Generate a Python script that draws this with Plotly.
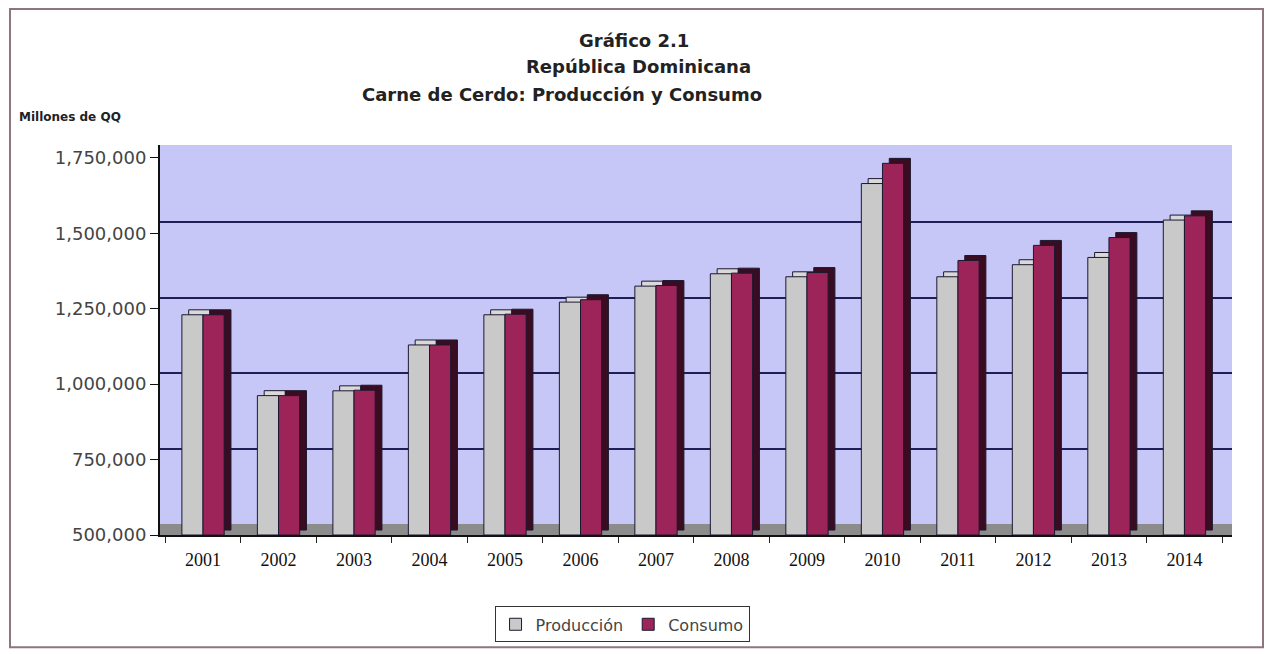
import plotly.graph_objects as go

# ---------------- data ----------------
years = ["2001", "2002", "2003", "2004", "2005", "2006", "2007",
         "2008", "2009", "2010", "2011", "2012", "2013", "2014"]
produccion = [1230000, 962000, 978000, 1130000, 1230000, 1272000, 1325000,
              1366000, 1356000, 1665000, 1356000, 1396000, 1420000, 1544000]
consumo = [1230000, 962000, 980000, 1130000, 1232000, 1280000, 1327000,
           1368000, 1370000, 1732000, 1410000, 1460000, 1486000, 1558000]
y_ticks = [500000, 750000, 1000000, 1250000, 1500000, 1750000]
wall_grid = [750000, 1000000, 1250000, 1500000]

# ---------------- geometry / style ----------------
W, H = 1272, 654
L, R, T, B = 160, 40, 145, 116
plot_h = H - T - B
px_per_unit = 380 / 1250000.0          # 380 px for 1.25M
y_min = 500000
y_max = y_min + plot_h / px_per_unit
floor_val = 11 / px_per_unit            # depth of the floor in value units
bar_depth_val = 5 / px_per_unit         # depth of a bar top in value units
dx = 0.09                               # horizontal depth in category units
bw = 0.28

GRAY = "#c9c9c9"
RED = "#9c2458"
EDGE = "#1c1830"

fig = go.Figure()

base_sh = [y_min + bar_depth_val] * len(years)
# depth (top / side) blocks
fig.add_trace(go.Bar(x=years, y=[v - y_min for v in produccion], base=base_sh,
                     offset=-bw + dx, width=bw, marker=dict(color="#d9d9d9", line=dict(color=EDGE, width=1)),
                     showlegend=False, hoverinfo="skip"))
fig.add_trace(go.Bar(x=years, y=[v - y_min for v in consumo], base=base_sh,
                     offset=dx, width=bw, marker=dict(color="#3a0c22", line=dict(color=EDGE, width=1)),
                     showlegend=False, hoverinfo="skip"))
# front faces
fig.add_trace(go.Bar(x=years, y=[v - y_min for v in produccion], base=[y_min] * len(years),
                     offset=-bw, width=bw, name="Producción",
                     marker=dict(color=GRAY, line=dict(color=EDGE, width=1))))
fig.add_trace(go.Bar(x=years, y=[v - y_min for v in consumo], base=[y_min] * len(years),
                     offset=0, width=bw, name="Consumo",
                     marker=dict(color=RED, line=dict(color=EDGE, width=1))))

# invisible trace to activate the wall axis (gridlines of back wall)
fig.add_trace(go.Scatter(x=years, y=produccion, yaxis="y2", mode="markers",
                         marker=dict(opacity=0), showlegend=False, hoverinfo="skip"))

fig.update_layout(
    width=W, height=H,
    margin=dict(l=L, r=R, t=T, b=B),
    paper_bgcolor="white",
    plot_bgcolor="#c7c7f7",
    barmode="overlay",
    font=dict(family="DejaVu Sans", color="#333333"),
    xaxis=dict(type="category", range=[-0.57, 13.63], showgrid=False,
               showline=True, linecolor="#111111", linewidth=2,
               ticks="outside", ticklen=6, tickcolor="#222222", tickson="boundaries",
               tickfont=dict(family="Liberation Serif", size=18, color="#111111"),
               ticklabelstandoff=7, zeroline=False),
    yaxis=dict(range=[y_min, y_max], tickvals=y_ticks, tickformat=",d",
               showgrid=False, showline=True, linecolor="#111111", linewidth=2,
               ticks="outside", ticklen=8, tickcolor="#111111",
               tickfont=dict(family="DejaVu Sans", size=18, color="#444444"),
               zeroline=False),
    yaxis2=dict(range=[y_min - floor_val, y_max - floor_val], overlaying="y",
                tickvals=wall_grid, showticklabels=False, showgrid=True,
                gridcolor="#1e1e58", gridwidth=2, zeroline=False, showline=False),
    legend=dict(orientation="h", x=0.431, xanchor="center", y=-0.183, yanchor="top",
                bordercolor="#333333", borderwidth=1, bgcolor="white",
                font=dict(family="DejaVu Sans", size=16, color="#444444"),
                itemwidth=30, traceorder="normal"),
    showlegend=True,
)

# floor of the 3D plot
fig.add_shape(type="rect", xref="paper", yref="y", x0=0, x1=1, y0=y_min, y1=y_min + floor_val,
              fillcolor="#8c8c8c", line=dict(width=0), layer="below")

# outer frame
fig.add_shape(type="rect", xref="paper", yref="paper",
              x0=(10 - L) / (W - L - R), x1=(1263 - L) / (W - L - R),
              y0=(H - B - 651) / plot_h, y1=(H - B - 8) / plot_h,
              line=dict(color="#8f7580", width=2), fillcolor="rgba(0,0,0,0)")

def px_x(x):
    return (x - L) / (W - L - R)

def px_y(y):
    return (H - B - y) / plot_h

titles = [("Gráfico 2.1", 634, 40), ("República Dominicana", 638, 66),
          ("Carne de Cerdo: Producción y Consumo", 562, 94)]
for txt, cx, cy in titles:
    fig.add_annotation(text="<b>%s</b>" % txt, xref="paper", yref="paper",
                       x=px_x(cx), y=px_y(cy), xanchor="center", yanchor="middle",
                       showarrow=False, font=dict(family="DejaVu Sans", size=18, color="#222222"))

fig.add_annotation(text="<b>Millones de QQ</b>", xref="paper", yref="paper",
                   x=px_x(17), y=px_y(117), xanchor="left", yanchor="middle",
                   showarrow=False, font=dict(family="DejaVu Sans", size=12, color="#222222"))

fig.write_html("out.html")
